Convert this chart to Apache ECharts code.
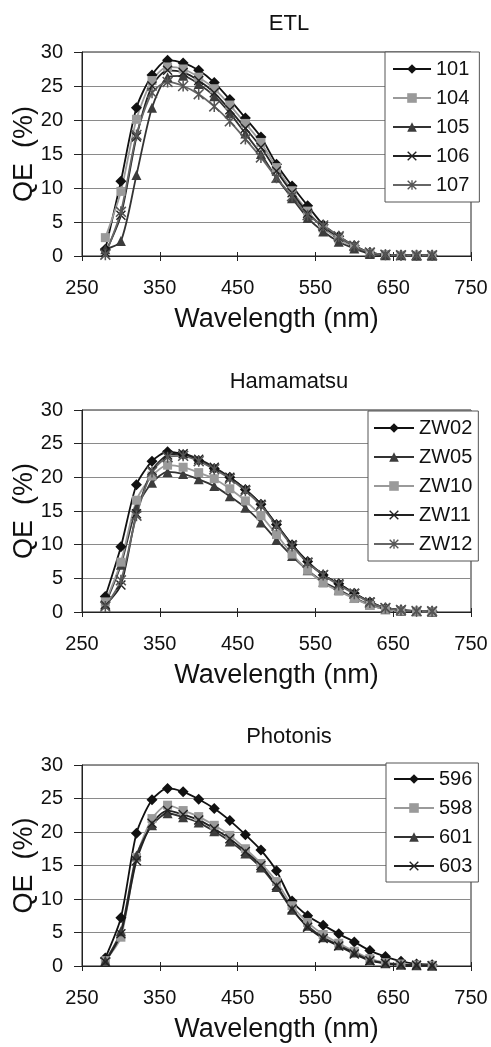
<!DOCTYPE html>
<html>
<head>
<meta charset="utf-8">
<script src="https://cdn.jsdelivr.net/npm/echarts@6/dist/echarts.min.js"></script>
<style>
html, body { margin: 0; padding: 0; background: #fff; }
#qe { width: 491px; height: 1047px; }
</style>
</head>
<body>
<div id="qe"></div>
<script>
var wavelengths = [280, 300, 320, 340, 360, 380, 400, 420, 440, 460, 480, 500, 520, 540, 560, 580, 600, 620, 640, 660, 680, 700];
var xTicks = [250, 350, 450, 550, 650, 750];
var yTicks = [0, 5, 10, 15, 20, 25, 30];

// ETL
var etl101 = [1.0, 11.0, 21.8, 26.6, 28.8, 28.4, 27.3, 25.5, 23.0, 20.3, 17.5, 13.5, 10.3, 7.4, 4.6, 2.9, 1.5, 0.5, 0.2, 0.1, 0.1, 0.1];
var etl104 = [2.7, 9.5, 20.1, 25.8, 27.8, 27.5, 26.3, 24.6, 22.2, 19.5, 16.7, 13.0, 9.6, 6.6, 4.1, 2.5, 1.3, 0.4, 0.2, 0.1, 0.1, 0.1];
var etl105 = [1.0, 2.2, 11.9, 21.8, 26.3, 26.5, 25.3, 23.5, 21.0, 18.0, 15.0, 11.5, 8.5, 5.6, 3.6, 2.1, 1.1, 0.3, 0.1, 0.1, 0.05, 0.05];
var etl106 = [0.5, 6.0, 17.5, 25.0, 27.3, 27.0, 25.8, 24.0, 21.5, 18.8, 16.0, 12.5, 9.3, 6.3, 4.3, 2.8, 1.5, 0.5, 0.2, 0.1, 0.1, 0.1];
var etl107 = [0.2, 6.5, 17.8, 24.0, 25.6, 25.0, 23.8, 22.0, 19.8, 17.2, 14.5, 11.5, 8.8, 6.0, 4.5, 2.9, 1.5, 0.5, 0.2, 0.1, 0.1, 0.1];

// Hamamatsu
var zw02 = [2.3, 9.7, 18.9, 22.4, 23.8, 23.4, 22.5, 21.3, 20.0, 18.2, 16.0, 13.0, 10.0, 7.5, 5.5, 4.2, 2.8, 1.5, 0.6, 0.3, 0.1, 0.1];
var zw05 = [1.2, 7.0, 15.5, 19.2, 20.8, 20.5, 19.7, 18.7, 17.2, 15.5, 13.3, 10.7, 8.3, 6.2, 4.5, 3.3, 2.1, 1.1, 0.4, 0.2, 0.1, 0.05];
var zw10 = [1.5, 7.4, 16.6, 20.2, 21.8, 21.5, 20.7, 19.8, 18.3, 16.5, 14.3, 11.5, 8.6, 6.2, 4.3, 3.1, 2.0, 1.0, 0.4, 0.2, 0.1, 0.05];
var zw11 = [1.0, 4.0, 14.6, 21.0, 23.3, 23.5, 22.7, 21.5, 20.0, 18.2, 16.0, 13.0, 10.0, 7.4, 5.5, 4.2, 2.8, 1.5, 0.6, 0.3, 0.1, 0.1];
var zw12 = [0.8, 4.7, 14.3, 20.8, 23.0, 23.2, 22.4, 21.2, 19.8, 18.0, 15.8, 12.8, 9.8, 7.3, 5.5, 4.0, 2.7, 1.4, 0.6, 0.3, 0.15, 0.1];

// Photonis
var ph596 = [1.2, 7.2, 19.8, 24.8, 26.5, 26.0, 24.9, 23.5, 21.7, 19.6, 17.3, 14.2, 9.7, 7.5, 6.1, 4.8, 3.6, 2.3, 1.4, 0.7, 0.3, 0.2];
var ph598 = [0.8, 4.3, 16.2, 22.0, 24.0, 23.2, 22.3, 21.0, 19.5, 17.5, 15.3, 12.6, 9.0, 6.5, 4.7, 3.4, 2.2, 1.1, 0.5, 0.3, 0.15, 0.1];
var ph601 = [0.8, 5.2, 16.5, 21.0, 22.8, 22.2, 21.4, 20.1, 18.6, 16.8, 14.7, 11.8, 8.4, 6.0, 4.3, 3.1, 2.0, 0.9, 0.4, 0.2, 0.1, 0.05];
var ph603 = [0.6, 4.8, 15.7, 21.3, 23.2, 22.6, 21.8, 20.5, 19.0, 17.1, 15.0, 12.0, 8.5, 5.8, 4.1, 3.0, 1.8, 0.8, 0.4, 0.2, 0.1, 0.05];

var FONT = 'Liberation Sans, Arial, sans-serif';

var diamond = 'path://M5,0L10,5L5,10L0,5Z';
var cross = 'path://M0,1L1,0L5,4L9,0L10,1L6,5L10,9L9,10L5,6L1,10L0,9L4,5Z';
var star = cross + 'M4.3,0L5.7,0L5.7,10L4.3,10Z';

var panels = [
    {title: 'ETL', top: 52, height: 204,
     legend: {left: 385, top: 52, padding: [7, 10, 7, 7], itemWidth: 38},
     series: [
        {name: '101', data: etl101, symbol: diamond, size: 11, color: '#111', line: '#111'},
        {name: '104', data: etl104, symbol: 'rect', size: 9, color: '#9a9a9a', line: '#9a9a9a'},
        {name: '105', data: etl105, symbol: 'triangle', size: 10, color: '#3c3c3c', line: '#333'},
        {name: '106', data: etl106, symbol: cross, size: 10, color: '#222', line: '#222'},
        {name: '107', data: etl107, symbol: star, size: 11, color: '#555', line: '#666'}
     ]},
    {title: 'Hamamatsu', top: 410, height: 202,
     legend: {left: 368, top: 411, padding: [7, 6, 7, 5], itemWidth: 40},
     series: [
        {name: 'ZW02', data: zw02, symbol: diamond, size: 11, color: '#111', line: '#111'},
        {name: 'ZW05', data: zw05, symbol: 'triangle', size: 10, color: '#3c3c3c', line: '#333'},
        {name: 'ZW10', data: zw10, symbol: 'rect', size: 9, color: '#9a9a9a', line: '#9a9a9a'},
        {name: 'ZW11', data: zw11, symbol: cross, size: 10, color: '#222', line: '#222'},
        {name: 'ZW12', data: zw12, symbol: star, size: 11, color: '#555', line: '#666'}
     ]},
    {title: 'Photonis', top: 765, height: 201,
     legend: {left: 386, top: 763, padding: [6, 6, 6, 7], itemWidth: 40},
     series: [
        {name: '596', data: ph596, symbol: diamond, size: 11, color: '#111', line: '#111'},
        {name: '598', data: ph598, symbol: 'rect', size: 9, color: '#9a9a9a', line: '#9a9a9a'},
        {name: '601', data: ph601, symbol: 'triangle', size: 10, color: '#3c3c3c', line: '#333'},
        {name: '603', data: ph603, symbol: cross, size: 10, color: '#222', line: '#222'}
     ]}
];

function pairs(vals) {
    return wavelengths.map(function(w, i){ return [w, vals[i]]; });
}

var option = {
    animation: false,
    backgroundColor: '#fff',
    textStyle: {fontFamily: FONT, color: '#111'},
    title: [],
    legend: [],
    grid: [],
    xAxis: [],
    yAxis: [],
    series: []
};

panels.forEach(function(p, gi){
    option.title.push({
        text: p.title,
        left: 284,
        textAlign: 'center',
        top: p.top - 44,
        textStyle: {fontFamily: FONT, fontSize: 22, fontWeight: 'normal', color: '#111'}
    });
    option.grid.push({
        show: true,
        left: 82,
        top: p.top,
        width: 389,
        height: p.height,
        containLabel: false,
        outerBoundsMode: 'none',
        borderColor: '#222',
        borderWidth: 1,
        backgroundColor: '#fff'
    });
    // main x axis with labels, ticks below
    option.xAxis.push({
        type: 'value',
        gridIndex: gi,
        min: xTicks[0],
        max: xTicks[xTicks.length - 1],
        interval: 100,
        name: 'Wavelength (nm)',
        nameLocation: 'middle',
        nameGap: 50,
        nameMoveOverlap: false,
        nameTextStyle: {fontFamily: FONT, fontSize: 27, color: '#111'},
        axisLine: {lineStyle: {color: '#222', width: 1}},
        axisTick: {show: true, length: 5, lineStyle: {color: '#222'}},
        axisLabel: {fontFamily: FONT, fontSize: 20, color: '#111', margin: 22},
        splitLine: {show: false}
    });
    // second x axis only to draw ticks crossing into the plot
    option.xAxis.push({
        type: 'value',
        gridIndex: gi,
        min: xTicks[0],
        max: xTicks[xTicks.length - 1],
        interval: 100,
        position: 'bottom',
        axisLine: {show: false},
        axisTick: {show: true, inside: true, length: 4, lineStyle: {color: '#222'}},
        axisLabel: {show: false},
        splitLine: {show: false}
    });
    option.yAxis.push({
        type: 'value',
        gridIndex: gi,
        min: yTicks[0],
        max: yTicks[yTicks.length - 1],
        interval: 5,
        name: 'QE  (%)',
        nameLocation: 'middle',
        nameGap: 44,
        nameMoveOverlap: false,
        nameTextStyle: {fontFamily: FONT, fontSize: 27, color: '#111'},
        axisLine: {show: true, lineStyle: {color: '#222', width: 1}},
        axisTick: {show: true, length: 8, lineStyle: {color: '#222'}},
        axisLabel: {fontFamily: FONT, fontSize: 20, color: '#111', margin: 19},
        splitLine: {show: true, lineStyle: {color: '#8a8a8a', width: 1}}
    });
    option.legend.push({
        orient: 'vertical',
        left: p.legend.left,
        top: p.legend.top,
        padding: p.legend.padding,
        itemWidth: p.legend.itemWidth,
        itemHeight: 12,
        itemGap: 9,
        backgroundColor: '#fff',
        borderColor: '#555',
        borderWidth: 1,
        borderRadius: 0,
        textStyle: {fontFamily: FONT, fontSize: 20, color: '#111'},
        data: p.series.map(function(s){ return s.name; })
    });
    p.series.forEach(function(s){
        option.series.push({
            name: s.name,
            type: 'line',
            xAxisIndex: gi * 2,
            yAxisIndex: gi,
            symbol: s.symbol,
            symbolSize: s.size,
            symbolKeepAspect: true,
            showAllSymbol: true,
            smooth: 0.25,
            lineStyle: {color: s.line, width: 1.8},
            itemStyle: {color: s.color},
            data: pairs(s.data)
        });
    });
});

var myChart = echarts.init(document.getElementById('qe'));
myChart.setOption(option);
</script>
</body>
</html>
